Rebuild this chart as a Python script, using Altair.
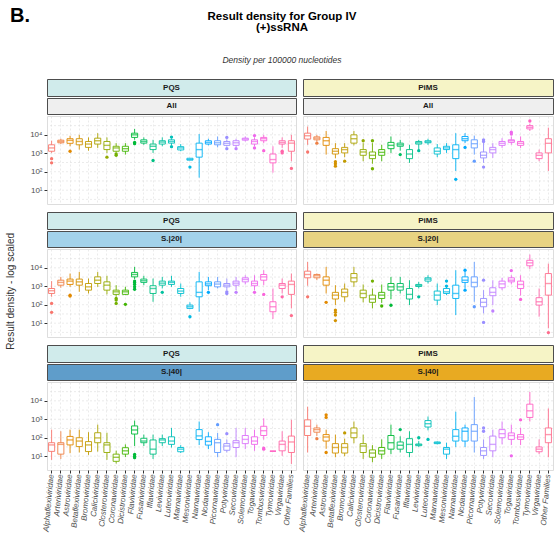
import math
import pandas as pd
import altair as alt

FAMILIES = ["Alphaflexiviridae", "Arteriviridae", "Astroviridae", "Betaflexiviridae",
            "Bromoviridae", "Caliciviridae", "Closteroviridae", "Coronaviridae",
            "Dicistroviridae", "Flaviviridae", "Fusariviridae", "Iflaviridae",
            "Leviviridae", "Luteoviridae", "Marnaviridae", "Mesoniviridae",
            "Narnaviridae", "Nodaviridae", "Picornaviridae", "Potyviridae",
            "Secoviridae", "Solemoviridae", "Togaviridae", "Tombusviridae",
            "Tymoviridae", "Virgaviridae", "Other Families"]

TICK_VALUES = [10, 100, 1000, 10000]
GRID_EXPONENTS = [0.5, 1, 1.5, 2, 2.5, 3, 3.5, 4, 4.5]

# box statistics per family, as log10(density): (lower whisker, q1, median, q3, upper whisker)
PQS_ALL = [(3.02, 3.11, 3.29, 3.46, 3.68), (3.50, 3.57, 3.64, 3.71, 3.79), (3.38, 3.54, 3.70, 3.79, 3.95),
           (3.20, 3.46, 3.64, 3.79, 4.00), (3.14, 3.32, 3.50, 3.64, 3.86), (3.29, 3.50, 3.68, 3.82, 4.09),
           (3.02, 3.20, 3.43, 3.64, 3.86), (3.05, 3.11, 3.29, 3.38, 3.55), (2.93, 3.11, 3.25, 3.38, 3.55),
           (3.73, 3.86, 4.00, 4.09, 4.32), (3.46, 3.55, 3.64, 3.73, 3.86), (3.02, 3.20, 3.38, 3.50, 3.73),
           (3.38, 3.50, 3.61, 3.68, 3.86), (3.45, 3.55, 3.64, 3.73, 3.80), (3.11, 3.18, 3.29, 3.36, 3.50),
           (2.63, 2.63, 2.66, 2.73, 2.73), (1.68, 2.79, 3.20, 3.55, 4.04), (3.43, 3.50, 3.59, 3.68, 3.79),
           (3.32, 3.46, 3.57, 3.68, 3.91), (3.36, 3.43, 3.54, 3.64, 3.76), (3.32, 3.43, 3.57, 3.68, 3.79),
           (3.64, 3.71, 3.77, 3.82, 3.91), (3.38, 3.50, 3.64, 3.73, 3.86), (3.55, 3.68, 3.79, 3.86, 4.00),
           (1.95, 2.48, 2.66, 2.96, 3.38), (3.29, 3.50, 3.59, 3.68, 3.86), (2.57, 3.11, 3.55, 3.68, 4.00)]
PQS_ALL_OUT = {1: [2.71, 2.48], 3: [3.11], 7: [2.79], 8: [2.96, 2.89], 10: [3.59, 3.52], 12: [2.61],
               14: [3.88, 3.36], 16: [2.25], 20: [3.86, 3.25], 21: [3.25], 23: [3.96, 3.29], 24: [3.14],
               26: [3.11, 3.02], 27: [2.18]}

PIMS_ALL = [(3.46, 3.77, 3.95, 4.09, 4.45), (3.64, 3.73, 3.82, 3.89, 4.00), (2.93, 3.43, 3.68, 3.86, 4.21),
            (2.73, 2.96, 3.11, 3.25, 3.55), (2.79, 3.02, 3.20, 3.32, 3.55), (3.43, 3.55, 3.79, 4.00, 4.21),
            (2.57, 2.89, 3.07, 3.20, 3.55), (2.43, 2.71, 2.89, 3.07, 3.55), (2.57, 2.89, 3.05, 3.20, 3.46),
            (3.02, 3.25, 3.43, 3.59, 3.91), (3.14, 3.38, 3.46, 3.55, 3.73), (2.48, 2.71, 2.96, 3.20, 3.46),
            (3.20, 3.50, 3.57, 3.64, 3.73), (3.46, 3.57, 3.62, 3.68, 3.79), (2.79, 2.96, 3.11, 3.29, 3.50),
            (3.02, 3.20, 3.29, 3.38, 3.55), (2.04, 2.71, 3.20, 3.46, 4.09), (3.55, 3.68, 3.79, 3.91, 4.09),
            (2.93, 3.29, 3.52, 3.73, 3.96), (2.48, 2.75, 2.89, 3.07, 3.57), (2.75, 3.02, 3.20, 3.32, 3.55),
            (3.29, 3.43, 3.54, 3.64, 3.82), (3.46, 3.59, 3.68, 3.73, 3.91), (3.29, 3.43, 3.54, 3.64, 3.91),
            (4.21, 4.32, 4.41, 4.50, 4.61), (2.57, 2.71, 2.89, 3.02, 3.20), (2.04, 3.02, 3.54, 3.79, 4.39)]
PIMS_ALL_OUT = {1: [3.07], 2: [3.55], 4: [2.54, 2.43, 2.30], 5: [2.57], 7: [3.68], 8: [3.68, 2.16],
                11: [2.93], 13: [3.14], 17: [1.59], 18: [3.32], 19: [2.57], 20: [3.73, 3.64, 2.25],
                23: [4.14, 4.04], 25: [4.75]}

PQS_S20 = [(2.43, 2.61, 2.76, 2.88, 3.28), (2.92, 3.06, 3.21, 3.33, 3.51), (2.97, 3.10, 3.28, 3.39, 3.69),
           (2.70, 3.06, 3.24, 3.39, 3.78), (2.61, 2.79, 2.97, 3.15, 3.42), (2.97, 3.15, 3.33, 3.51, 3.78),
           (2.56, 2.79, 3.06, 3.24, 3.57), (2.43, 2.56, 2.70, 2.79, 3.06), (2.52, 2.56, 2.70, 2.79, 2.97),
           (3.39, 3.51, 3.64, 3.75, 4.05), (3.06, 3.21, 3.30, 3.39, 3.57), (2.16, 2.61, 2.88, 3.03, 3.42),
           (2.88, 3.06, 3.17, 3.28, 3.51), (2.97, 3.10, 3.21, 3.28, 3.57), (2.43, 2.61, 2.74, 2.88, 3.15),
           (1.76, 1.80, 1.89, 1.98, 2.13), (1.62, 2.43, 2.67, 3.24, 3.78), (2.79, 3.03, 3.13, 3.24, 3.51),
           (2.88, 2.97, 3.12, 3.24, 3.51), (2.79, 2.97, 3.06, 3.15, 3.42), (2.79, 3.06, 3.17, 3.28, 3.51),
           (3.10, 3.24, 3.37, 3.46, 3.60), (2.79, 3.03, 3.15, 3.28, 3.60), (3.06, 3.33, 3.51, 3.64, 3.87),
           (1.23, 1.62, 1.89, 2.16, 2.88), (2.61, 2.88, 3.06, 3.15, 3.42), (1.80, 2.56, 3.10, 3.28, 3.69)]
PQS_S20_OUT = {1: [2.07, 1.59], 3: [2.52, 2.47], 8: [2.34, 2.25, 2.07], 9: [2.02],
               10: [3.28, 3.20, 3.10, 2.97, 2.84], 13: [2.67], 16: [1.35], 18: [2.67],
               20: [2.70, 2.61], 21: [2.67], 23: [2.67], 24: [2.56], 26: [2.43], 27: [1.41]}

PIMS_S20 = [(3.03, 3.46, 3.64, 3.82, 4.32), (3.33, 3.46, 3.57, 3.64, 3.69), (2.61, 3.06, 3.33, 3.51, 4.05),
            (1.98, 2.31, 2.52, 2.67, 3.06), (2.16, 2.43, 2.67, 2.85, 3.15), (2.97, 3.24, 3.46, 3.69, 4.05),
            (2.13, 2.38, 2.61, 2.79, 3.10), (1.80, 2.13, 2.31, 2.52, 2.88), (2.10, 2.34, 2.52, 2.67, 3.10),
            (2.30, 2.79, 2.97, 3.15, 3.51), (2.61, 2.79, 2.97, 3.15, 3.51), (1.98, 2.31, 2.56, 2.88, 3.33),
            (2.88, 2.99, 3.04, 3.10, 3.24), (3.15, 3.28, 3.39, 3.46, 3.60), (1.98, 2.25, 2.52, 2.74, 3.15),
            (2.52, 2.61, 2.70, 2.88, 3.06), (1.44, 2.34, 2.61, 3.06, 3.87), (2.88, 3.21, 3.33, 3.51, 3.78),
            (2.16, 2.97, 3.21, 3.51, 4.32), (1.53, 1.89, 2.13, 2.34, 2.79), (1.98, 2.49, 2.67, 2.92, 3.33),
            (2.79, 2.92, 3.13, 3.28, 3.46), (3.10, 3.24, 3.33, 3.46, 3.60), (2.50, 2.88, 3.10, 3.28, 3.60),
            (3.93, 4.11, 4.27, 4.41, 4.72), (1.35, 1.98, 2.16, 2.38, 2.88), (0.72, 2.52, 3.15, 3.69, 4.23)]
PIMS_S20_OUT = {1: [2.43], 3: [2.13], 4: [1.71, 1.59, 1.44, 1.14], 8: [3.28], 9: [1.93], 10: [1.97],
                13: [2.43], 16: [3.28, 3.01], 18: [3.87, 2.79], 19: [1.89], 20: [3.33, 1.04], 21: [1.66],
                23: [3.85], 24: [2.29], 27: [0.49]}

PQS_S40 = [(0.80, 1.26, 1.61, 1.73, 2.44), (0.85, 1.11, 1.64, 1.73, 2.35), (1.16, 1.61, 1.88, 2.07, 2.44),
           (1.20, 1.52, 1.82, 2.00, 2.44), (1.07, 1.25, 1.61, 1.79, 2.30), (1.25, 1.73, 1.99, 2.27, 2.71),
           (0.80, 1.20, 1.61, 1.73, 2.27), (0.60, 0.72, 0.94, 1.11, 1.30), (0.95, 1.11, 1.29, 1.46, 1.64),
           (1.55, 2.20, 2.42, 2.64, 2.93), (1.55, 1.73, 1.82, 1.97, 2.17), (0.85, 1.11, 1.38, 1.88, 2.17),
           (1.55, 1.73, 1.88, 1.95, 2.17), (1.47, 1.64, 1.82, 2.05, 2.53), (1.17, 1.24, 1.38, 1.47, 1.60),
           None, (1.60, 1.90, 2.10, 2.44, 2.88), (1.38, 1.60, 1.80, 2.05, 2.30),
           (0.94, 1.20, 1.73, 1.91, 2.26), (1.20, 1.32, 1.55, 1.68, 1.90), (0.94, 1.47, 1.73, 1.84, 2.53),
           (1.38, 1.68, 1.91, 2.12, 2.53), (1.29, 1.64, 1.82, 2.05, 2.44), (1.90, 2.12, 2.38, 2.62, 3.05),
           (1.27, 1.27, 1.27, 1.27, 1.27), (1.02, 1.29, 1.64, 1.82, 2.35), (0.58, 1.20, 1.77, 2.09, 2.97)]
PQS_S40_OUT = {10: [1.09, 1.00, 0.92], 19: [2.71], 20: [2.22], 24: [1.44, 1.38]}

PIMS_S40 = [(1.20, 2.12, 2.62, 2.97, 3.68), (2.10, 2.30, 2.44, 2.53, 2.71), (1.40, 1.82, 2.04, 2.17, 2.44),
            (0.94, 1.17, 1.47, 1.68, 2.17), (1.00, 1.17, 1.47, 1.68, 1.95), (1.70, 2.00, 2.26, 2.53, 2.88),
            (0.85, 1.20, 1.55, 1.68, 2.17), (0.67, 0.94, 1.17, 1.34, 1.60), (0.85, 1.11, 1.29, 1.47, 1.91),
            (1.11, 1.38, 1.73, 2.12, 2.71), (1.20, 1.38, 1.59, 1.77, 2.08), (0.94, 1.20, 1.64, 1.95, 2.35),
            (1.50, 1.57, 1.62, 1.66, 1.82), (2.40, 2.58, 2.76, 2.93, 3.15), (1.64, 1.68, 1.73, 1.77, 1.80),
            (0.85, 1.11, 1.38, 1.47, 1.73), (1.50, 1.82, 2.08, 2.44, 3.41), (1.50, 1.82, 2.35, 2.53, 2.71),
            (1.20, 1.82, 2.35, 2.71, 4.21), (0.85, 1.04, 1.29, 1.47, 1.90), (0.94, 1.29, 1.64, 2.09, 2.44),
            (1.64, 2.00, 2.22, 2.44, 2.88), (1.60, 1.91, 2.12, 2.26, 2.71), (1.60, 1.91, 2.04, 2.17, 2.53),
            (2.88, 3.10, 3.46, 3.82, 4.48), (1.11, 1.24, 1.38, 1.50, 1.91), (0.94, 1.73, 2.17, 2.53, 3.59)]
PIMS_S40_OUT = {2: [1.95], 3: [3.24, 3.10, 1.20], 5: [2.26], 11: [2.44], 13: [2.00], 14: [1.91],
                20: [2.53, 2.35], 23: [1.02], 24: [2.97]}

FONT = "Liberation Sans"
Y_DOMAIN = [1.78, 105000]
PLOT_H = 88
W_LEFT, W_RIGHT = 249, 250


def hue_palette(n, c=100, l=65):
    """ggplot2-style evenly spaced HCL hues."""
    xn, yn, zn = 95.047, 100.0, 108.883
    un = 4 * xn / (xn + 15 * yn + 3 * zn)
    vn = 9 * yn / (xn + 15 * yn + 3 * zn)
    out = []
    for i in range(n):
        h = 15 + i * 360 / n
        u = c * math.cos(math.radians(h))
        v = c * math.sin(math.radians(h))
        Y = yn * ((l + 16) / 116) ** 3
        up = u / (13 * l) + un
        vp = v / (13 * l) + vn
        X = Y * 9 * up / (4 * vp)
        Z = Y * (12 - 3 * up - 20 * vp) / (4 * vp)
        X, Y, Z = X / 100, Y / 100, Z / 100
        rgb = (3.2404542 * X - 1.5371385 * Y - 0.4985314 * Z,
               -0.9692660 * X + 1.8760108 * Y + 0.0415560 * Z,
               0.0556434 * X - 0.2040259 * Y + 1.0572252 * Z)
        chans = []
        for t in rgb:
            t = max(0.0, min(1.0, t))
            t = 12.92 * t if t <= 0.0031308 else 1.055 * t ** (1 / 2.4) - 0.055
            chans.append(int(round(t * 255)))
        out.append("#%02x%02x%02x" % tuple(chans))
    return out


COLORS = hue_palette(len(FAMILIES))
color_scale = alt.Scale(domain=FAMILIES, range=COLORS)

LABEL_EXPR = ("datum.value == 10 ? '10\u00b9' : datum.value == 100 ? '10\u00b2' : "
              "datum.value == 1000 ? '10\u00b3' : '10\u2074'")


def frames(stats, outs):
    rows = []
    for fam, s in zip(FAMILIES, stats):
        if s is None:
            continue
        lo, q1, med, q3, hi = (10 ** v for v in s)
        rows.append(dict(family=fam, lo=lo, q1=q1, med=med, q3=q3, hi=hi))
    pts = [dict(family=FAMILIES[i - 1], value=10 ** v) for i, vs in outs.items() for v in vs]
    return pd.DataFrame(rows), pd.DataFrame(pts, columns=["family", "value"])


def panel(stats, outs, width, left, bottom):
    box_df, out_df = frames(stats, outs)
    if bottom:
        x_axis = alt.Axis(labelAngle=-85, labelAlign="right", labelBaseline="middle",
                          labelFontSize=7.9, labelFontStyle="italic", labelColor="#4d4d4d",
                          labelFont=FONT, labelPadding=1, ticks=True, tickSize=3,
                          tickColor="#333333", domain=False, grid=True, gridDash=[2, 2],
                          gridColor="#dedede", gridWidth=0.6, bandPosition=0.5)
    else:
        x_axis = alt.Axis(labels=False, ticks=False, domain=False, grid=True, gridDash=[2, 2],
                          gridColor="#dedede", gridWidth=0.6, bandPosition=0.5)
    x = alt.X("family:N", title=None, axis=x_axis,
              scale=alt.Scale(domain=FAMILIES, paddingInner=0, paddingOuter=0))
    if left:
        y_axis = alt.Axis(values=TICK_VALUES, labelExpr=LABEL_EXPR, labelFontSize=8,
                          labelColor="#4d4d4d", labelFont=FONT, tickSize=3, tickColor="#333333",
                          domain=False, grid=False)
    else:
        y_axis = alt.Axis(values=TICK_VALUES, labels=False, ticks=False, domain=False, grid=False)
    y_scale = alt.Scale(type="log", domain=Y_DOMAIN, nice=False)

    def Y(field):
        return alt.Y(field, scale=y_scale, axis=y_axis, title=None)

    col = alt.Color("family:N", scale=color_scale, legend=None)
    grid = alt.Chart(pd.DataFrame({"g": [10 ** e for e in GRID_EXPONENTS]})).mark_rule(
        color="#dedede", strokeDash=[2, 2], strokeWidth=0.6).encode(y=Y("g:Q"))
    base = alt.Chart(box_df)
    whisk = base.mark_rule(strokeWidth=0.9).encode(x=x, y=Y("lo:Q"), y2="hi:Q", color=col)
    box = base.mark_bar(fill="white", strokeWidth=0.9, width=alt.RelativeBandSize(0.66)).encode(
        x=x, y=Y("q1:Q"), y2="q3:Q",
        stroke=alt.Stroke("family:N", scale=color_scale, legend=None))
    med = base.mark_tick(thickness=1.4, size=6).encode(x=x, y=Y("med:Q"), color=col)
    pts = alt.Chart(out_df).mark_circle(size=11, opacity=1).encode(x=x, y=Y("value:Q"), color=col)
    return alt.layer(grid, whisk, box, med, pts).properties(width=width, height=PLOT_H)


def strip(label, fill, width, height):
    return alt.Chart(pd.DataFrame({"label": [label]})).mark_text(
        font=FONT, fontSize=8, fontWeight="bold", color="#1a1a1a").encode(
        text="label:N").properties(width=width, height=height,
                                   view=alt.ViewBackground(fill=fill, stroke="#4d4d4d", strokeWidth=1))


# (facet label, PQS strip fill, PiMS strip fill, PQS stats, PQS outliers, PiMS stats, PiMS outliers)
ROWS = [
    ("All", "#efefef", "#efefef", PQS_ALL, PQS_ALL_OUT, PIMS_ALL, PIMS_ALL_OUT),
    ("S.|20|", "#a3d2ea", "#e8d382", PQS_S20, PQS_S20_OUT, PIMS_S20, PIMS_S20_OUT),
    ("S.|40|", "#5f9dca", "#e8aa22", PQS_S40, PQS_S40_OUT, PIMS_S40, PIMS_S40_OUT),
]

left_cells, right_cells = [], []
for r, (lab, fl, fr, sl, ol, sr, orr) in enumerate(ROWS):
    bottom = r == 2
    left_cells.append(alt.vconcat(strip("PQS", "#d0ebeb", W_LEFT, 17), strip(lab, fl, W_LEFT, 16),
                                  panel(sl, ol, W_LEFT, True, bottom), spacing=0))
    right_cells.append(alt.vconcat(strip("PiMS", "#f6f4c6", W_RIGHT, 17), strip(lab, fr, W_RIGHT, 16),
                                   panel(sr, orr, W_RIGHT, False, bottom), spacing=0))

grid_body = alt.hconcat(alt.vconcat(*left_cells, spacing=6), alt.vconcat(*right_cells, spacing=6),
                        spacing=0).properties(
    title=alt.TitleParams("Result density - log scaled", orient="left", anchor="middle",
                          fontSize=10, fontWeight="normal", color="#333333", font=FONT,
                          offset=13, dx=14))


# header texts are positioned relative to the left edge of the first panel
def header_text(text, x, y, **kw):
    return alt.Chart(pd.DataFrame({"t": [text]})).mark_text(font=FONT, **kw).encode(
        text="t:N", x=alt.value(x), y=alt.value(y))


header = alt.layer(
    header_text("B.", -37, 21, fontSize=20, fontWeight="bold", align="left",
                baseline="alphabetic", color="#000000"),
    header_text("Result density for Group IV", 235, 19, fontSize=11.5, fontWeight="bold",
                align="center", baseline="alphabetic", color="#000000"),
    header_text("(+)ssRNA", 235, 30, fontSize=11.5, fontWeight="bold", align="center",
                baseline="alphabetic", color="#000000"),
    header_text("Density per 100000 nucleotides", 235, 62, fontSize=8.5, fontStyle="italic",
                align="center", baseline="alphabetic", color="#333333"),
).properties(width=W_LEFT + 5 + W_RIGHT, height=76, view=alt.ViewBackground(stroke="transparent"))

chart = alt.vconcat(header, grid_body, spacing=0).properties(
    padding={"left": 6, "top": 0, "right": 2, "bottom": 0}
).configure_view(stroke="#4d4d4d", strokeWidth=1).configure(font=FONT)

chart.save("out.html", embed_options={"renderer": "svg", "actions": False})
